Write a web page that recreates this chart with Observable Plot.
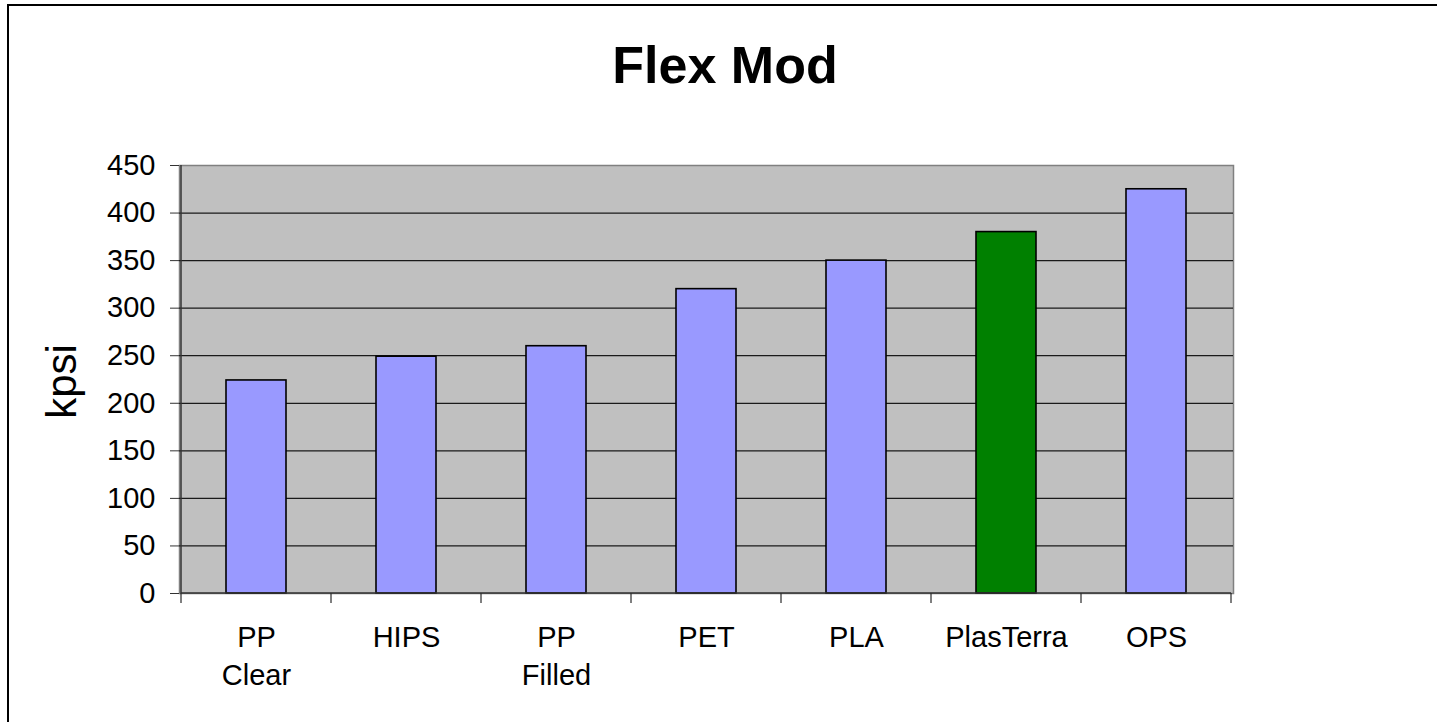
<!DOCTYPE html>
<html><head><meta charset="utf-8">
<script src="https://cdn.jsdelivr.net/npm/d3@7"></script>
<script src="https://cdn.jsdelivr.net/npm/@observablehq/plot@0.6"></script>
<style>
body{margin:0;background:#fff;}
#wrap{position:relative;width:1437px;height:722px;overflow:hidden;font-family:"Liberation Sans",Arial,sans-serif;background:#fff;}
#border{position:absolute;left:7px;top:4px;width:1500px;height:800px;border:2px solid #000;box-sizing:border-box;pointer-events:none}
#title{height:110px;box-sizing:border-box;padding-top:39px;padding-left:13px;text-align:center;font-weight:bold;font-size:52px;line-height:52px;color:#000;}
#chart svg{display:block;}
</style></head>
<body>
<div id="wrap"><div id="border"></div><div id="title">Flex Mod</div><div id="chart"></div></div>
<script>
// ---- data ----
const categories = ["PP Clear", "HIPS", "PP Filled", "PET", "PLA", "PlasTerra", "OPS"];
const values = [224, 249, 260, 320, 350, 380, 425];
const highlighted = "PlasTerra";
const yTicks = [0, 50, 100, 150, 200, 250, 300, 350, 400, 450];
const yLabel = "kpsi";

const data = categories.map((name, i) => ({name, value: values[i]}));
const gridTicks = yTicks.filter(v => v > d3.min(yTicks) && v < d3.max(yTicks));

function bandBoundaries(index, scales, channels, dims, context) {
  const x = scales.x, y = scales.y;
  const step = x.step(), bw = x.bandwidth();
  const xs = categories.map(c => x(c) + bw / 2 - step / 2);
  xs.push(x(categories[categories.length - 1]) + bw / 2 + step / 2);
  const y0 = y(0), yTop = y(d3.max(yTicks));
  const g = d3.create("svg:g");
  g.selectAll("line.tick").data(xs).join("line")
    .attr("x1", d => d).attr("x2", d => d)
    .attr("y1", y0).attr("y2", y0 + 10)
    .attr("stroke", "#000").attr("stroke-width", 1);
  g.append("line").attr("x1", xs[0]).attr("x2", xs[0]).attr("y1", yTop).attr("y2", y0)
    .attr("stroke", "#333").attr("stroke-width", 1.5);
  g.append("line").attr("x1", xs[0]).attr("x2", xs[xs.length - 1]).attr("y1", y0).attr("y2", y0)
    .attr("stroke", "#333").attr("stroke-width", 1.5);
  return g.node();
}

const chart = Plot.plot({
  width: 1437,
  height: 612,
  marginTop: 55,
  marginBottom: 129,
  marginLeft: 179,
  marginRight: 204,
  style: {fontFamily: '"Liberation Sans", Arial, sans-serif', color: "#000", background: "transparent", overflow: "visible"},
  x: {domain: categories, paddingInner: 0.6, paddingOuter: 0.3, label: null},
  y: {domain: [0, d3.max(yTicks)], label: null},
  color: {type: "identity"},
  marks: [
    Plot.frame({fill: "#c0c0c0", stroke: "#808080", strokeWidth: 1.5}),
    Plot.gridY(gridTicks, {stroke: "#1a1a1a", strokeOpacity: 1, strokeWidth: 1.2}),
    Plot.barY(data, {x: "name", y: "value", fill: d => d.name === highlighted ? "#008000" : "#9999ff", stroke: "#000", strokeWidth: 1.6}),
    bandBoundaries,
    Plot.axisY({ticks: yTicks, tickSize: 9, tickPadding: 15, fontSize: 29, label: null, stroke: "#333"}),
    Plot.axisX({tickSize: 0, tickPadding: 27, fontSize: 29, lineHeight: 1.3, label: null, tickFormat: d => d.replace(" ", "\n")}),
    Plot.text([yLabel], {frameAnchor: "left", textAnchor: "middle", rotate: -90, dx: -117, dy: 2, fontSize: 42, fill: "#000"})
  ]
});
document.getElementById("chart").appendChild(chart);
</script>
</body></html>
